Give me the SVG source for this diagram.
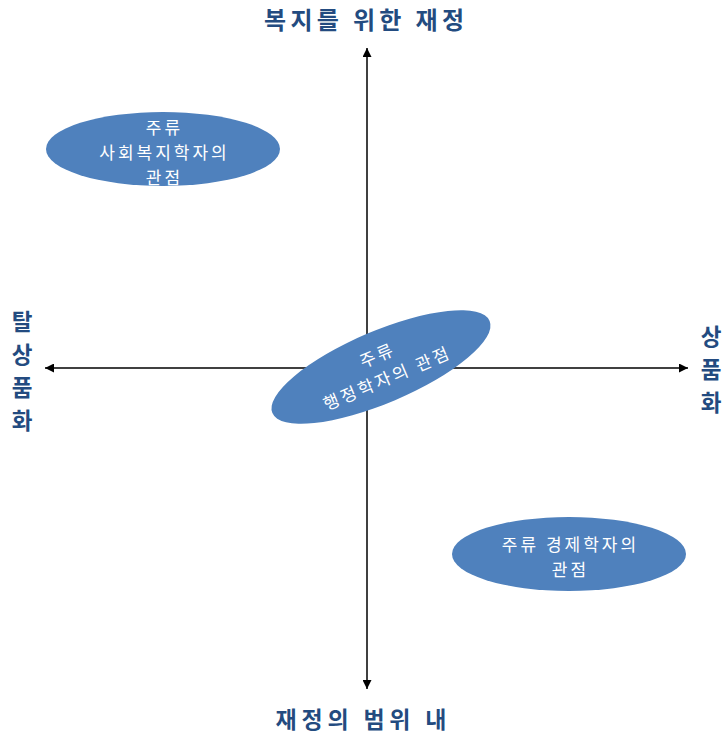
<svg xmlns="http://www.w3.org/2000/svg" width="727" height="736" viewBox="0 0 727 736">
<style>
.axis{stroke:#000;stroke-width:1.5;fill:none}
.lbl{font-family:"Noto Sans CJK KR","Noto Sans",sans-serif;font-weight:bold;font-size:24px;fill:#234b80;text-anchor:middle}
.vl{font-size:22.5px}
.node{fill:#4f81bd}
.nt{font-family:"Noto Sans CJK KR","Noto Sans",sans-serif;font-size:17px;fill:#fff;text-anchor:middle;letter-spacing:3px}
</style>
<defs>
<marker id="ah" viewBox="0 0 10 10" refX="10" refY="5" markerWidth="9" markerHeight="9" markerUnits="userSpaceOnUse" orient="auto">
<path d="M0,0 L10,5 L0,10 z" fill="#000"/>
</marker>
</defs>
<rect width="727" height="736" fill="#fff"/>
<g id="connectors">
<line class="axis" x1="367" y1="368" x2="367" y2="48" marker-end="url(#ah)"/>
<line class="axis" x1="367" y1="368" x2="367" y2="689" marker-end="url(#ah)"/>
<line class="axis" x1="367" y1="368" x2="45" y2="368" marker-end="url(#ah)"/>
<line class="axis" x1="367" y1="368" x2="688" y2="368" marker-end="url(#ah)"/>
</g>
<g id="label-top"><text class="lbl" x="364" y="29" textLength="200" lengthAdjust="spacing">복지를 위한 재정</text></g>
<g id="label-bottom"><text class="lbl" x="361" y="728" style="font-size:23px" textLength="171" lengthAdjust="spacing">재정의 범위 내</text></g>
<g id="label-left">
<text class="lbl vl" x="22" y="330">탈</text>
<text class="lbl vl" x="22" y="363">상</text>
<text class="lbl vl" x="22" y="396">품</text>
<text class="lbl vl" x="22" y="429">화</text>
</g>
<g id="label-right">
<text class="lbl vl" x="711" y="345">상</text>
<text class="lbl vl" x="711" y="378">품</text>
<text class="lbl vl" x="711" y="411">화</text>
</g>
<g id="node-social">
<ellipse class="node" cx="163" cy="149" rx="117" ry="37"/>
<text class="nt" x="164.5" y="134">주류</text>
<text class="nt" x="164.5" y="159">사회복지학자의</text>
<text class="nt" x="164.5" y="184">관점</text>
</g>
<g id="node-admin" transform="translate(381,367) rotate(-23)">
<ellipse class="node" cx="0" cy="0" rx="118" ry="36"/>
<text class="nt" x="1.5" y="-6">주류</text>
<text class="nt" x="1.5" y="19">행정학자의 관점</text>
</g>
<g id="node-econ">
<ellipse class="node" cx="569" cy="554" rx="117" ry="37"/>
<text class="nt" x="570.5" y="551">주류 경제학자의</text>
<text class="nt" x="570.5" y="576">관점</text>
</g>
</svg>
